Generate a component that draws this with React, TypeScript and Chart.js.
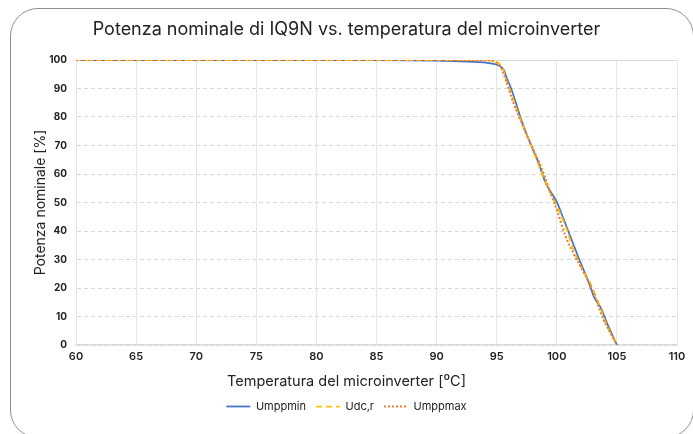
import React, { useEffect, useRef } from "react";
import { Chart, registerables } from "chart.js";

Chart.register(...registerables);

const TITLE = "Potenza nominale di IQ9N vs. temperatura del microinverter";
const X_TITLE = "Temperatura del microinverter [⁰C]";
const Y_TITLE = "Potenza nominale [%]";

const UMPPMIN_X = [60, 85, 90, 92.6, 94.5, 95.2, 95.6, 95.8, 96.2, 96.7, 97.1, 97.8, 98.4, 99.1, 99.5, 100, 100.5, 101.2, 101.9, 102.6, 103.1, 103.7, 104.2, 105];
const UMPPMIN_Y = [100, 100, 99.8, 99.4, 98.8, 98, 96.5, 94.1, 90, 83.6, 78.3, 70.7, 64.8, 56.6, 53.7, 50.2, 44.9, 37.3, 29.7, 22.6, 16.8, 12.7, 7.4, 0];

const UDCR_X = [60, 85, 94, 94.9, 95.5, 95.75, 96.3, 97, 97.8, 98.5, 99.2, 99.9, 100.75, 101.4, 102.1, 102.8, 103.4, 104.1, 105];
const UDCR_Y = [100, 100, 100, 99.4, 97.1, 93.6, 87.1, 78.9, 70.7, 63, 55.5, 49.6, 41.4, 33.2, 26.7, 21.5, 15.6, 7.4, 0];

const UMPPMAX_X = [60, 85, 94, 95.3, 95.75, 96.4, 97.1, 98, 98.7, 99.4, 100.1, 100.75, 101.4, 102.3, 103.1, 103.8, 104.5, 105];
const UMPPMAX_Y = [100, 100, 99.9, 97.7, 93, 84.8, 77.7, 68.9, 62.5, 54.3, 46.1, 37.9, 32, 25, 17.9, 9.7, 3.9, 0];

const toPoints = (xs: number[], ys: number[]) => xs.map((x, i) => ({ x, y: ys[i] }));

const FONT = "Inter, 'Noto Sans', sans-serif";

const xTitlePlugin = {
  id: "xTitleCentered",
  afterDraw(chart: any) {
    const ctx = chart.ctx;
    const xs = chart.scales.x;
    ctx.save();
    ctx.font = `14.5px ${FONT}`;
    ctx.fillStyle = "#222";
    ctx.textAlign = "center";
    ctx.textBaseline = "middle";
    ctx.fillText(X_TITLE, chart.width / 2, xs.bottom - 9);
    ctx.restore();
  },
};

export default function App() {
  const ref = useRef<HTMLCanvasElement | null>(null);

  useEffect(() => {
    if (!ref.current) return;
    const chart = new Chart(ref.current, {
      type: "scatter",
      data: {
        datasets: [
          {
            label: "Umppmin",
            data: toPoints(UMPPMIN_X, UMPPMIN_Y),
            showLine: true,
            borderColor: "#4472C4",
            backgroundColor: "#4472C4",
            borderWidth: 1.75,
            pointRadius: 0,
            order: 3,
            cubicInterpolationMode: "monotone",
          },
          {
            label: "Udc,r",
            data: toPoints(UDCR_X, UDCR_Y),
            showLine: true,
            borderColor: "#FFC000",
            backgroundColor: "#FFC000",
            borderWidth: 1.75,
            borderDash: [6, 4],
            pointRadius: 0,
            order: 2,
            cubicInterpolationMode: "monotone",
          },
          {
            label: "Umppmax",
            data: toPoints(UMPPMAX_X, UMPPMAX_Y),
            showLine: true,
            borderColor: "#ED7D31",
            backgroundColor: "#ED7D31",
            borderWidth: 2,
            borderDash: [2, 2],
            pointRadius: 0,
            order: 1,
            cubicInterpolationMode: "monotone",
          },
        ],
      },
      options: {
        animation: false,
        responsive: false,
        maintainAspectRatio: false,
        layout: { padding: { top: 19, left: 16, right: 16, bottom: 12 } },
        plugins: {
          tooltip: { enabled: false },
          title: {
            display: true,
            text: TITLE,
            color: "#222",
            font: { family: FONT, size: 18, weight: "normal" },
            padding: { top: 0, bottom: 19.4 },
          },
          legend: {
            position: "bottom",
            labels: {
              usePointStyle: true,
              pointStyle: "line",
              pointStyleWidth: 24,
              boxWidth: 24,
              color: "#222",
              font: { family: FONT, size: 11 },
              padding: 10,
              sort: (a: any, b: any) => a.datasetIndex - b.datasetIndex,
              generateLabels: (chart: any) => {
                const base = (Chart as any).defaults.plugins.legend.labels.generateLabels(chart);
                return base.map((item: any) => {
                  const ds = chart.data.datasets[item.datasetIndex];
                  return {
                    ...item,
                    pointStyle: "line",
                    strokeStyle: ds.borderColor,
                    fillStyle: ds.borderColor,
                    lineWidth: ds.borderWidth,
                    lineDash: ds.borderDash || [],
                  };
                });
              },
            },
          },
        },
        scales: {
          x: {
            type: "linear",
            min: 60,
            max: 110,
            afterFit: (s: any) => {
              s.height = 46;
            },
            ticks: {
              stepSize: 5,
              color: "#222",
              padding: 5,
              font: { family: FONT, size: 11, weight: 600 },
            },
            grid: { color: "#e6e6e6", drawTicks: false, lineWidth: 1 },
            border: { color: "#d9d9d9", width: 1.5 },
            title: { display: false, text: X_TITLE },
          },
          y: {
            min: 0,
            max: 100,
            afterFit: (s: any) => {
              s.width = 60;
            },
            ticks: {
              stepSize: 10,
              color: "#222",
              padding: 9,
              font: { family: FONT, size: 10, weight: "bold" },
            },
            grid: { color: "#d9d9d9", drawTicks: false, lineWidth: 1 },
            border: {
              display: true,
              color: "#e6e6e6",
              dash: (ctx: any) => (ctx.tick && ctx.tick.value === 100 ? [] : [4, 3]),
            },
            title: {
              display: true,
              text: Y_TITLE,
              color: "#222",
              font: { family: FONT, size: 14 },
              padding: { top: 16, bottom: 0 },
            },
          },
        },
      } as any,
      plugins: [xTitlePlugin],
    });
    return () => chart.destroy();
  }, []);

  return (
    <div style={{ position: "fixed", left: 0, top: 0, width: 693, height: 434, background: "#fff", overflow: "hidden" }}>
      <canvas ref={ref} width={693} height={434} style={{ position: "absolute", left: 0, top: 0 }} />
      <div
        style={{
          position: "absolute",
          left: 10,
          top: 8,
          width: 682,
          height: 428,
          border: "1px solid #8f8f8f",
          borderRadius: 28,
          pointerEvents: "none",
        }}
      />
    </div>
  );
}
